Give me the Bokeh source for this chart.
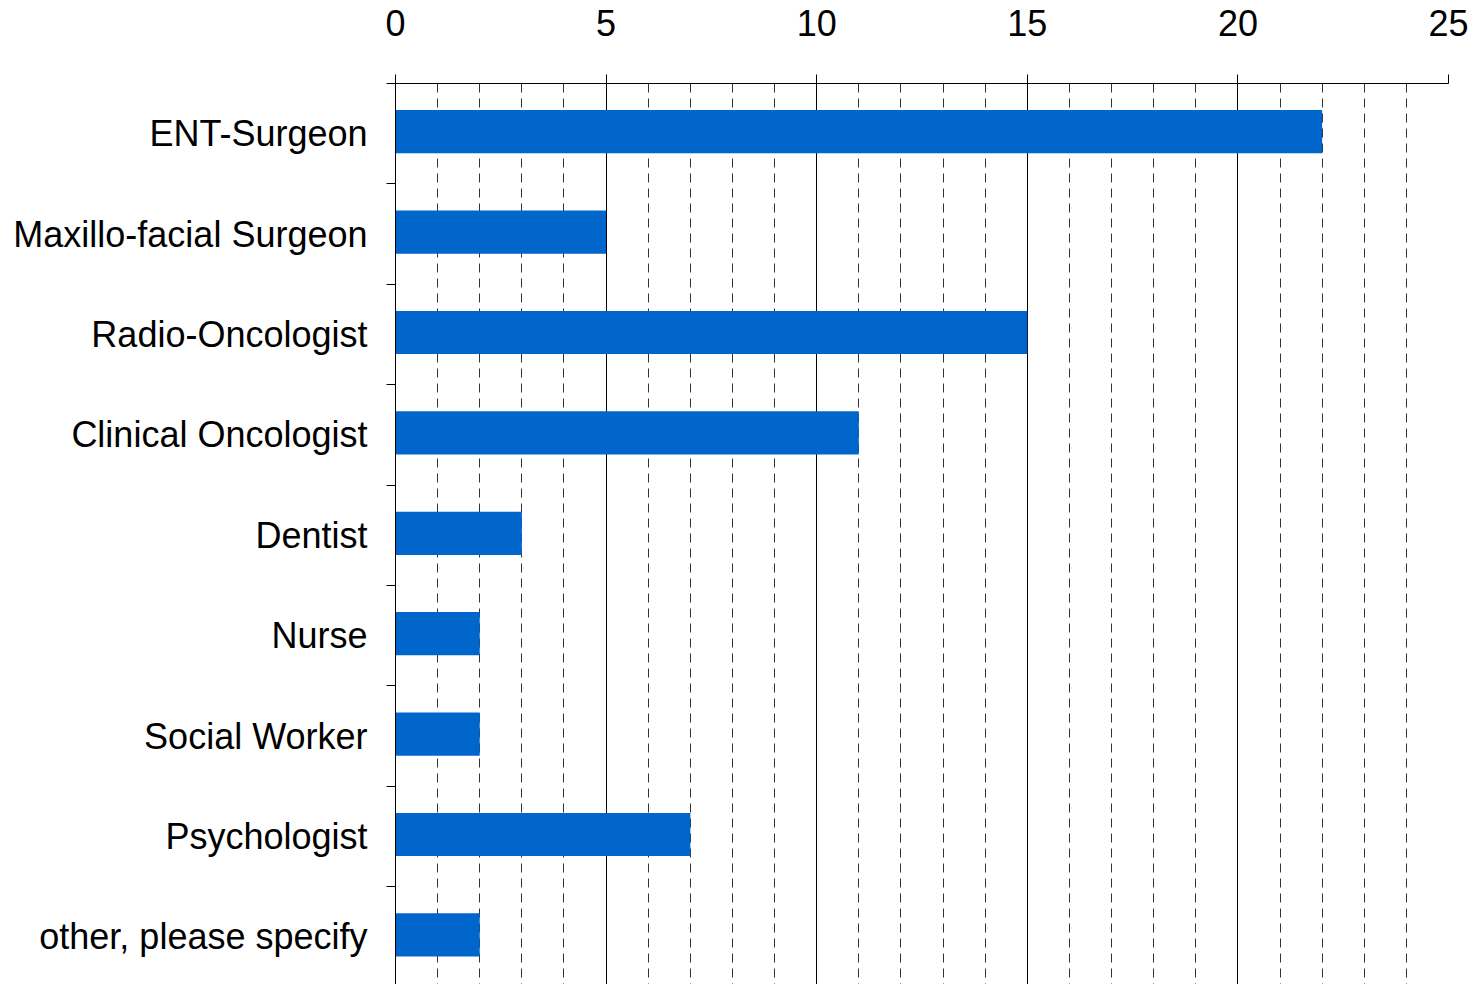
from bokeh.plotting import figure
from bokeh.models import Range1d, FixedTicker, ColumnDataSource
from bokeh.transform import dodge
from bokeh.embed import file_html
from bokeh.resources import INLINE

categories = ["ENT-Surgeon", "Maxillo-facial Surgeon", "Radio-Oncologist",
              "Clinical Oncologist", "Dentist", "Nurse", "Social Worker",
              "Psychologist", "other, please specify"]
counts = [22, 5, 15, 11, 3, 2, 2, 7, 2]
x_major = [0, 5, 10, 15, 20, 25]
x_minor = [v for v in range(0, 26) if v % 5 != 0]

idx = list(range(len(categories)))
src = ColumnDataSource(dict(y=idx, right=counts))

FONT = "Liberation Sans"

p = figure(width=1477, height=984, output_backend="svg", toolbar_location=None,
           x_range=Range1d(0, 25), y_range=Range1d(8.474, -0.5),
           x_axis_location="above", y_axis_location="left",
           min_border_left=395, min_border_right=29, min_border_top=83,
           min_border_bottom=0)
p.outline_line_color = None
p.background_fill_color = "white"
p.border_fill_color = "white"

p.hbar(y=dodge("y", -0.02, range=p.y_range), right="right", left=0, height=0.43,
       source=src, fill_color="#0066CC", line_color=None)

# x axis (top)
xa = p.xaxis[0]
xa.ticker = FixedTicker(ticks=x_major, minor_ticks=x_minor)
xa.axis_line_color = "black"
xa.axis_line_width = 1
xa.major_tick_out = 9
xa.major_tick_in = 0
xa.major_tick_line_color = "black"
xa.minor_tick_out = 0
xa.minor_tick_in = 0
xa.major_label_text_font = FONT
xa.major_label_text_font_size = "36px"
xa.major_label_text_color = "black"
xa.major_label_standoff = 39

# y axis (left)
ya = p.yaxis[0]
ya.ticker = FixedTicker(ticks=idx, minor_ticks=[i - 0.5 for i in range(len(categories) + 1)])
ya.major_label_overrides = {i: c for i, c in zip(idx, categories)}
ya.axis_line_color = "black"
ya.axis_line_width = 1
ya.major_tick_out = 0
ya.major_tick_in = 0
ya.minor_tick_out = 9
ya.minor_tick_in = 0
ya.minor_tick_line_color = "black"
ya.major_label_text_font = FONT
ya.major_label_text_font_size = "36px"
ya.major_label_text_color = "black"
ya.major_label_standoff = 19

# grids
p.ygrid.grid_line_color = None
p.xgrid.ticker = FixedTicker(ticks=x_major, minor_ticks=x_minor)
p.xgrid.grid_line_color = "black"
p.xgrid.grid_line_width = 1
p.xgrid.minor_grid_line_color = "#333333"
p.xgrid.minor_grid_line_width = 1
p.xgrid.minor_grid_line_dash = "9 6"
p.xgrid.level = "underlay"

open("out.html", "w").write(file_html(p, INLINE))
